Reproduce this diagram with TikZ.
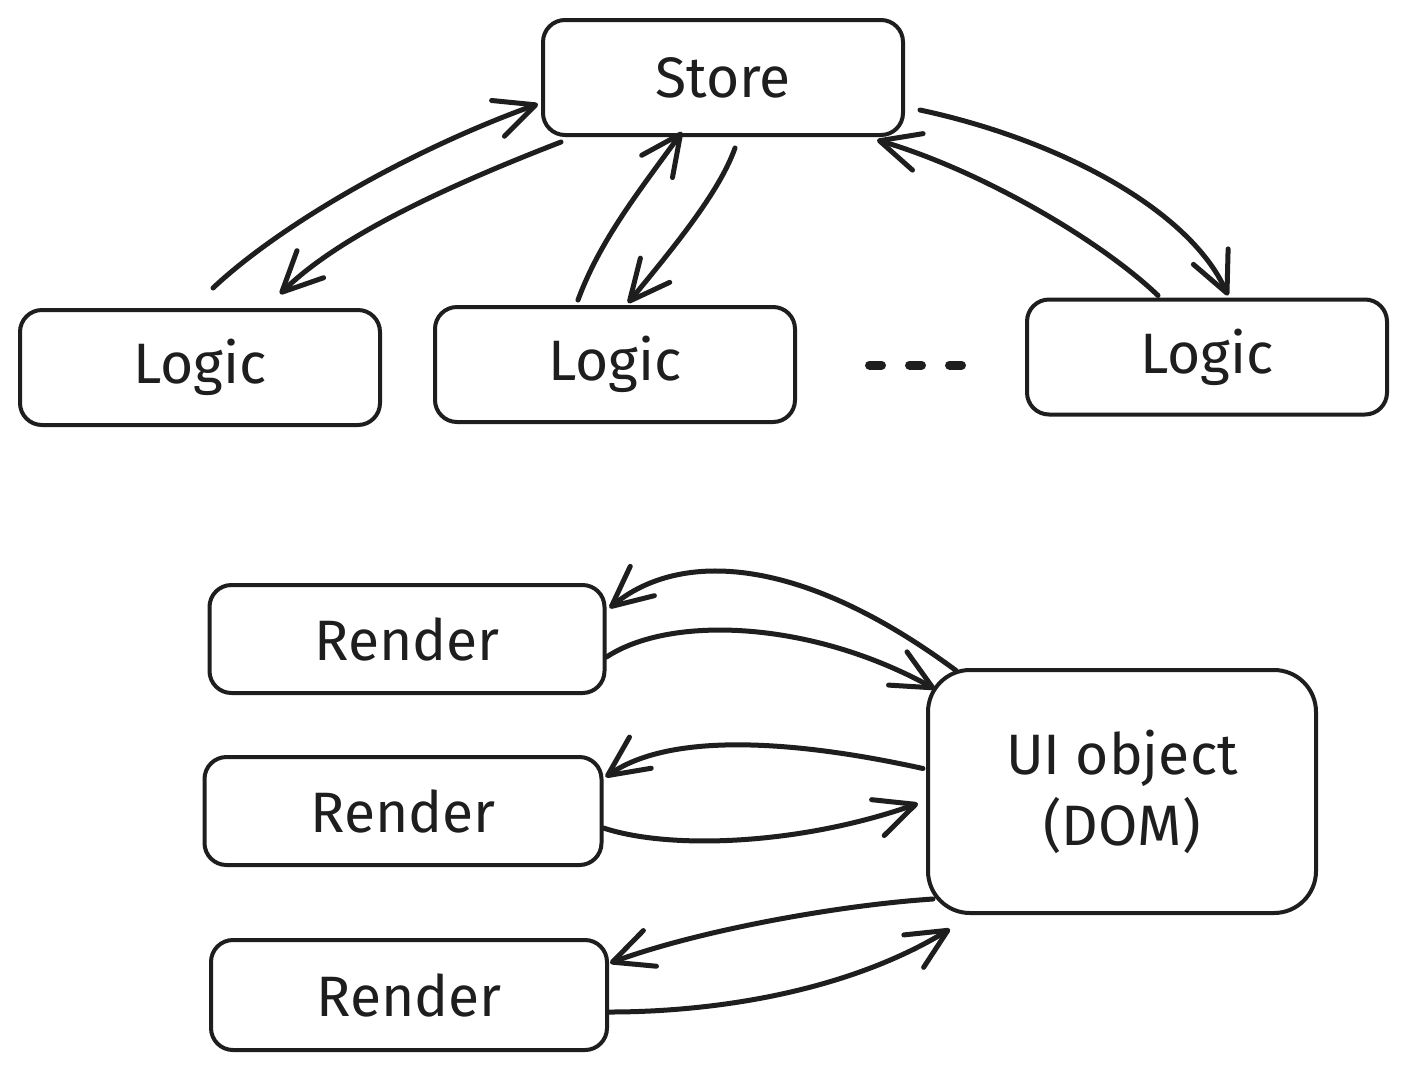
\documentclass[tikz,border=0pt]{standalone}
\usepackage{fontspec}
\setmainfont{Fira Sans}
\usetikzlibrary{arrows.meta,calc}
\definecolor{ink}{HTML}{1E1E1E}
\begin{document}
\begin{tikzpicture}[x=1pt,y=-1pt,
  box/.style={draw=ink, line width=4pt, rounded corners=22pt, inner sep=0pt,
    font=\fontsize{57}{71}\selectfont, text=ink, align=center},
  conn/.style={draw=ink, line width=5pt, line cap=round,
    -{Straight Barb[length=40pt,width=38pt,round]}},
  dashline/.style={draw=ink, line width=9pt, line cap=round, dash pattern=on 12pt off 28pt}
]
\fill[white] (0,0) rectangle (1407,1069);
\useasboundingbox (0,0) rectangle (1407,1069);

% top row
\node[box, minimum width=360pt, minimum height=115pt] (store) at (723,77.5) {Store};
\node[box, minimum width=360pt, minimum height=115pt] (logic1) at (200,367.5) {Logic};
\node[box, minimum width=360pt, minimum height=115pt] (logic2) at (615,364.5) {Logic};
\node[box, minimum width=360pt, minimum height=115pt] (logic3) at (1207,357) {Logic};
\coordinate (dots) at (915,365);
\draw[dashline] ($(dots)+(-45.5,0)$) -- ($(dots)+(47,0)$);

% bottom
\node[box, minimum width=395pt, minimum height=108pt] (render1) at (407,639) {Render};
\node[box, minimum width=397pt, minimum height=108pt] (render2) at (403,811) {Render};
\node[box, minimum width=396pt, minimum height=110pt] (render3) at (409,995) {Render};
\node[box, rounded corners=42pt, minimum width=388pt, minimum height=243pt] (ui) at (1122,791.5) {UI object\\(DOM)};

% store <-> logic
\draw[conn] ($(logic1.north west)+(195,-20)$) .. controls (280,225) and (410,150) .. ($(store.south west)+(-3,-33)$);
\draw[conn] ($(store.south west)+(20,5)$) .. controls (450,185) and (340,235) .. ($(logic1.north west)+(262,-14)$);
\draw[conn] ($(logic2.north west)+(145,-5)$) .. controls (600,240) and (640,190) .. ($(store.south west)+(141,-5)$);
\draw[conn] ($(store.south west)+(194,11)$) .. controls (720,190) and (680,240) .. ($(logic2.north west)+(195,-2)$);
\draw[conn] ($(store.south east)+(15,-27)$) .. controls (1060,140) and (1190,210) .. ($(logic3.north west)+(203,-2)$);
\draw[conn] ($(logic3.north west)+(133,-2)$) .. controls (1100,240) and (980,170) .. ($(store.south east)+(-28,3)$);

% render <-> ui
\draw[conn] ($(ui.north west)+(30,2.5)$) .. controls (800,555) and (680,550) .. ($(render1.east)+(3,-31)$);
\draw[conn] ($(render1.east)+(0,18)$) .. controls (670,615) and (810,620) .. ($(ui.north west)+(9,21)$);
\draw[conn] ($(ui.west)+(-3,-23)$) .. controls (830,748) and (680,725) .. ($(render2.east)+(2,-34)$);
\draw[conn] ($(render2.east)+(0,17)$) .. controls (670,850) and (800,845) .. ($(ui.west)+(-8,12)$);
\draw[conn] ($(ui.south west)+(7,-16)$) .. controls (840,905) and (700,930) .. ($(render3.east)+(1,-32)$);
\draw[conn] ($(render3.east)+(0,17)$) .. controls (720,1012) and (850,990) .. ($(ui.south west)+(24,14)$);
\end{tikzpicture}
\end{document}
